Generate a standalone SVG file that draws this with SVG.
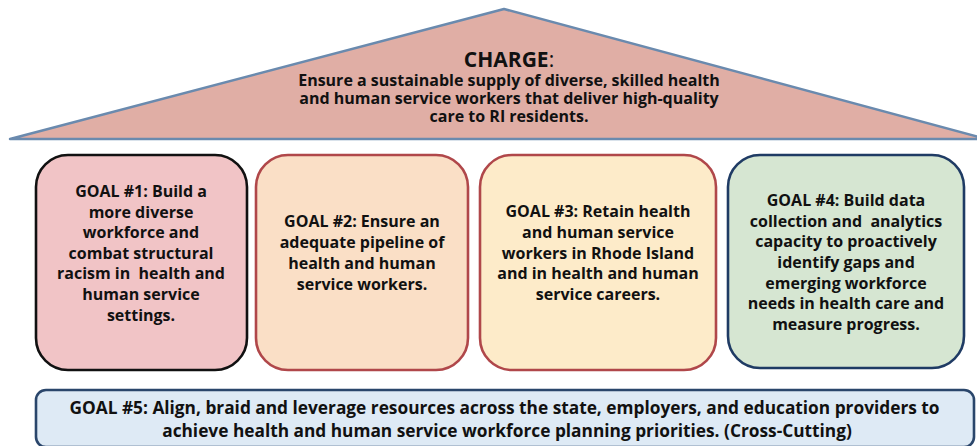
<svg xmlns="http://www.w3.org/2000/svg" width="977" height="446" viewBox="0 0 977 446">
<style>
.t{font-family:"Open Sans","DejaVu Sans",sans-serif;font-weight:700;fill:#111;text-anchor:middle}
.g{font-size:16px}
.c{font-size:16px}
.w{font-size:17.3px}
.box{stroke-width:2.6}
</style>
<rect width="977" height="446" fill="#fff"/>
<g id="charge">
<polygon points="10,139 504,9 979,137 979,139" fill="#E0AEA5" stroke="#6A8AAE" stroke-width="2.5" stroke-linejoin="round"/>
<text class="t" x="509" y="66.5" font-size="21">CHARGE<tspan font-weight="400">:</tspan></text>
<text class="t c" x="509" y="85.5">Ensure a sustainable supply of diverse, skilled health</text>
<text class="t c" x="509" y="104">and human service workers that deliver high-quality</text>
<text class="t c" x="509" y="122">care to RI residents.</text>
</g>
<g id="goal1">
<rect class="box" x="36" y="155" width="211" height="215" rx="32" fill="#F1C4C6" stroke="#111"/>
<text class="t g" x="141" y="197">GOAL #1: Build a</text>
<text class="t g" x="141" y="217.5">more diverse</text>
<text class="t g" x="141" y="238">workforce and</text>
<text class="t g" x="141" y="258.5">combat structural</text>
<text class="t g" x="141" y="279.3" xml:space="preserve">racism in  health and</text>
<text class="t g" x="141" y="300">human service</text>
<text class="t g" x="141" y="320.5">settings.</text>
</g>
<g id="goal2">
<rect class="box" x="256" y="155" width="212" height="215" rx="32" fill="#FADFC6" stroke="#B0474A"/>
<text class="t g" x="362" y="227">GOAL #2: Ensure an</text>
<text class="t g" x="362" y="248">adequate pipeline of</text>
<text class="t g" x="362" y="269">health and human</text>
<text class="t g" x="362" y="290">service workers.</text>
</g>
<g id="goal3">
<rect class="box" x="480" y="155" width="236" height="215" rx="32" fill="#FDEBC9" stroke="#B0474A"/>
<text class="t g" x="598" y="217">GOAL #3: Retain health</text>
<text class="t g" x="598" y="238">and human service</text>
<text class="t g" x="598" y="258.5">workers in Rhode Island</text>
<text class="t g" x="598" y="279">and in health and human</text>
<text class="t g" x="598" y="299.5">service careers.</text>
</g>
<g id="goal4">
<rect class="box" x="728" y="155" width="236" height="213" rx="32" fill="#D6E6D2" stroke="#1F3B64"/>
<text class="t g" x="846" y="205.5">GOAL #4: Build data</text>
<text class="t g" x="846" y="226.5" xml:space="preserve">collection and  analytics</text>
<text class="t g" x="846" y="247">capacity to proactively</text>
<text class="t g" x="846" y="267.5">identify gaps and</text>
<text class="t g" x="846" y="288.5">emerging workforce</text>
<text class="t g" x="846" y="309">needs in health care and</text>
<text class="t g" x="846" y="330">measure progress.</text>
</g>
<g id="goal5">
<rect class="box" x="36" y="390" width="938" height="57" rx="10" fill="#DEEAF5" stroke="#2A466B"/>
<text class="t w" x="504.5" y="413.5">GOAL #5: Align, braid and leverage resources across the state, employers, and education providers to</text>
<text class="t w" x="507" y="437">achieve health and human service workforce planning priorities. (Cross-Cutting)</text>
</g>
<g id="connectors"/>
</svg>
